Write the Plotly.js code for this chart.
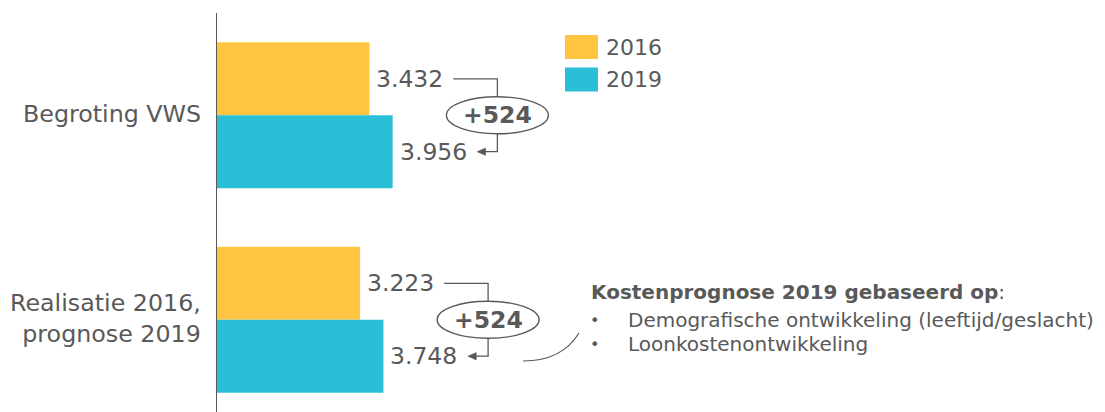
<!DOCTYPE html>
<html><head><meta charset="utf-8">
<script src="https://cdn.plot.ly/plotly-3.0.1.min.js"></script>
<style>html,body{margin:0;padding:0;background:#fff;} #chart{width:1105px;height:412px;}</style>
</head><body><div id="chart"></div>
<script>
const categories = ["Begroting VWS", "Realisatie 2016,<br>prognose 2019"];
const years = ["2016", "2019"];
const values2016 = [3432, 3223];
const values2019 = [3956, 3748];
const diffLabels = ["+524", "+524"];
const noteTitle = "Kostenprognose 2019 gebaseerd op";
const noteBullets = ["Demografische ontwikkeling (leeftijd/geslacht)", "Loonkostenontwikkeling"];

const COLORS = ["#FFC441", "#2ABFD7"];
const GREY = "#595959";
const FONT = "DejaVu Sans, Verdana, sans-serif";
const W = 1105, H = 412, ML = 217, MT = 13, MR = 0, MB = 0;
const PW = W - ML - MR, PH = H - MT - MB;
const XMAX = 20000, YTOP = -0.5, YBOT = 1.451, BARGAP = 0.287;
const halfBar = (1 - BARGAP) / 4;

const xpx = v => ML + v / XMAX * PW;
const ypx = c => MT + (c - YTOP) / (YBOT - YTOP) * PH;
const fx = p => (p - ML) / PW;
const fy = p => 1 - (p - MT) / PH;
const fmt = n => String(n).replace(/\B(?=(\d{3})+(?!\d))/g, '.');

const traces = [
  {type: 'bar', orientation: 'h', name: years[0], y: categories, x: values2016,
   marker: {color: COLORS[0], line: {width: 0}}, hoverinfo: 'skip'},
  {type: 'bar', orientation: 'h', name: years[1], y: categories, x: values2019,
   marker: {color: COLORS[1], line: {width: 0}}, hoverinfo: 'skip'}
];

const shapes = [], annotations = [];
const lineStyle = {color: GREY, width: 1.3};

categories.forEach((cat, i) => {
  annotations.push({xref: 'paper', yref: 'y', x: 0, y: i, xanchor: 'right', yanchor: 'middle',
    xshift: -15, yshift: 1, text: cat, align: 'right', showarrow: false,
    borderpad: 0, font: {family: FONT, size: 23.75, color: GREY}});
  [[values2016[i], -1], [values2019[i], 1]].forEach(([v, s]) => {
    annotations.push({xref: 'x', yref: 'y', x: v, y: i + s * halfBar, xanchor: 'left', yanchor: 'middle',
      xshift: 6, text: fmt(v), showarrow: false, borderpad: 0,
      font: {family: FONT, size: 23.5, color: GREY}});
  });
  const e16 = xpx(values2016[i]);
  const bx = e16 + 128;
  const yT = ypx(i - halfBar), yB = ypx(i + halfBar), yc = ypx(i);
  const hw = 51, hh = 18.5;
  shapes.push({type: 'path', xref: 'paper', yref: 'paper',
    path: `M${fx(e16 + 84)},${fy(yT)} L${fx(bx)},${fy(yT)} L${fx(bx)},${fy(yc - hh)}`, line: lineStyle});
  shapes.push({type: 'path', xref: 'paper', yref: 'paper',
    path: `M${fx(bx)},${fy(yc + hh)} L${fx(bx)},${fy(yB)} L${fx(bx - 14)},${fy(yB)}`, line: lineStyle});
  shapes.push({type: 'path', xref: 'paper', yref: 'paper',
    path: `M${fx(bx - 20)},${fy(yB)} L${fx(bx - 12)},${fy(yB - 3.5)} L${fx(bx - 12)},${fy(yB + 3.5)} Z`,
    fillcolor: GREY, line: {color: GREY, width: 0.8}});
  shapes.push({type: 'circle', xref: 'paper', yref: 'paper',
    x0: fx(bx - hw), x1: fx(bx + hw), y0: fy(yc + hh), y1: fy(yc - hh), line: lineStyle});
  annotations.push({xref: 'paper', yref: 'paper', x: fx(bx), y: fy(yc), xanchor: 'center', yanchor: 'middle',
    text: '<b>' + diffLabels[i] + '</b>', showarrow: false, borderpad: 0,
    font: {family: FONT, size: 23.5, color: GREY}});
});

// legend
years.forEach((yr, k) => {
  const top = 35 + k * 32.5;
  shapes.push({type: 'rect', xref: 'paper', yref: 'paper', x0: fx(565), x1: fx(598), y0: fy(top + 24), y1: fy(top),
    fillcolor: COLORS[k], line: {width: 0}});
  annotations.push({xref: 'paper', yref: 'paper', x: fx(605), y: fy(top + 12), xanchor: 'left', yanchor: 'middle',
    text: yr, showarrow: false, borderpad: 0, font: {family: FONT, size: 22, color: GREY}});
});

// note
annotations.push({xref: 'paper', yref: 'paper', x: fx(590), y: fy(291.5), xanchor: 'left', yanchor: 'middle',
  text: '<b>' + noteTitle + '</b>:', showarrow: false, borderpad: 0, font: {family: FONT, size: 20, color: GREY}});
noteBullets.forEach((b, k) => {
  const yy = 320 + k * 24;
  annotations.push({xref: 'paper', yref: 'paper', x: fx(589), y: fy(yy), xanchor: 'left', yanchor: 'middle',
    text: '•', showarrow: false, borderpad: 0, font: {family: FONT, size: 16, color: GREY}});
  annotations.push({xref: 'paper', yref: 'paper', x: fx(627), y: fy(yy), xanchor: 'left', yanchor: 'middle',
    text: b, showarrow: false, borderpad: 0, font: {family: FONT, size: 20, color: GREY}});
});
shapes.push({type: 'path', xref: 'paper', yref: 'paper',
  path: `M${fx(523)},${fy(361)} Q${fx(562)},${fy(361)} ${fx(579)},${fy(333)}`, line: {color: GREY, width: 1.2}});

const layout = {
  width: W, height: H, margin: {l: ML, r: MR, t: MT, b: MB, pad: 0},
  paper_bgcolor: '#fff', plot_bgcolor: '#fff',
  barmode: 'group', bargap: BARGAP, bargroupgap: 0, showlegend: false,
  xaxis: {range: [0, XMAX], autorange: false, showgrid: false, zeroline: false, showline: false,
    showticklabels: false, ticks: ''},
  yaxis: {type: 'category', range: [YBOT, YTOP], autorange: false, showgrid: false, zeroline: false,
    showline: true, linecolor: GREY, linewidth: 1, showticklabels: false, ticks: ''},
  shapes: shapes, annotations: annotations,
  font: {family: FONT, color: GREY}
};

Plotly.newPlot('chart', traces, layout, {displayModeBar: false, staticPlot: true});
</script>
</body></html>
